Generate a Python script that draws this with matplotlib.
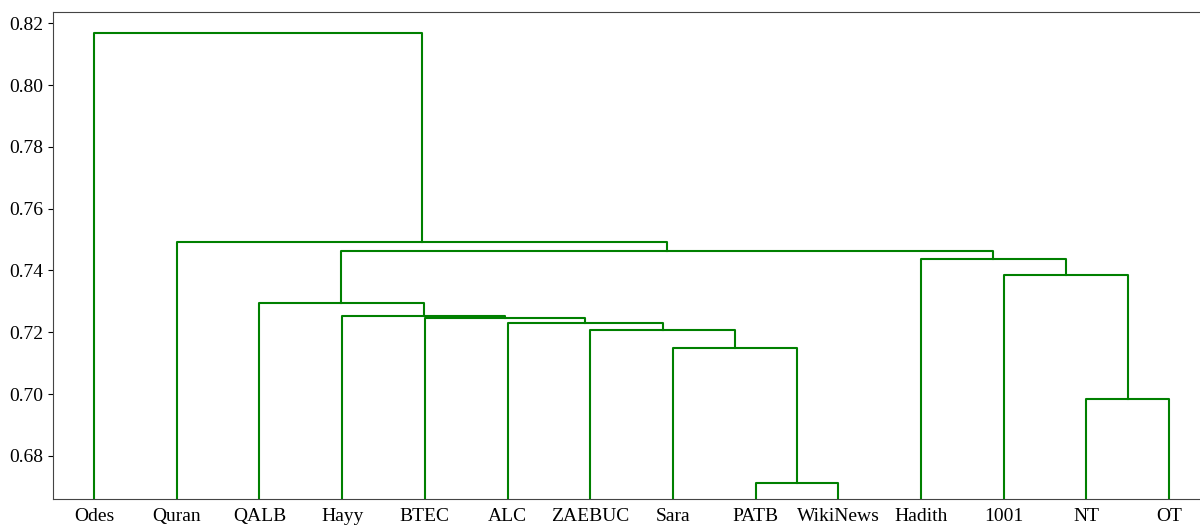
import matplotlib
matplotlib.use('Agg')
import matplotlib.pyplot as plt

plt.rcParams['font.family'] = ['Liberation Serif', 'DejaVu Serif']

leaf_labels = ['Odes', 'Quran', 'QALB', 'Hayy', 'BTEC', 'ALC', 'ZAEBUC',
               'Sara', 'PATB', 'WikiNews', 'Hadith', '1001', 'NT', 'OT']

# merges: (left child, right child, height); ids >= n are earlier merges
merge_left = [8, 12, 7, 6, 5, 4, 3, 2, 11, 10, 21, 1, 0]
merge_right = [9, 13, 14, 16, 17, 18, 19, 20, 15, 22, 23, 24, 25]
merge_height = [0.6713, 0.6985, 0.7149, 0.7207, 0.7229, 0.7245, 0.7253,
                0.7296, 0.7386, 0.7438, 0.7463, 0.7491, 0.817]

n = len(leaf_labels)
pos = {i: 5 + 10 * i for i in range(n)}
hgt = {i: 0.0 for i in range(n)}

fig = plt.figure(figsize=(12, 5.26), dpi=100)
ax = fig.add_axes([0.0439, 0.0513, 0.9648, 0.9259])

for k, (a, b, h) in enumerate(zip(merge_left, merge_right, merge_height)):
    xa, xb = pos[a], pos[b]
    ax.plot([xa, xa, xb, xb], [hgt[a], h, h, hgt[b]], color='g', lw=1.5)
    pos[n + k] = (xa + xb) / 2.0
    hgt[n + k] = h

ax.set_xlim(0, 10 * n)
ax.set_ylim(0.666, 0.8237)
ax.set_xticks([5 + 10 * i for i in range(n)])
ax.set_xticklabels(leaf_labels, fontsize=14)
ax.tick_params(axis='x', length=0, pad=6.5)
ax.tick_params(axis='y', labelsize=14)
ax.set_yticks([0.68, 0.70, 0.72, 0.74, 0.76, 0.78, 0.80, 0.82])
ax.set_yticklabels(['%.2f' % v for v in ax.get_yticks()])
for sp in ax.spines.values():
    sp.set_color('#444444')

fig.savefig('out.png', dpi=100)
